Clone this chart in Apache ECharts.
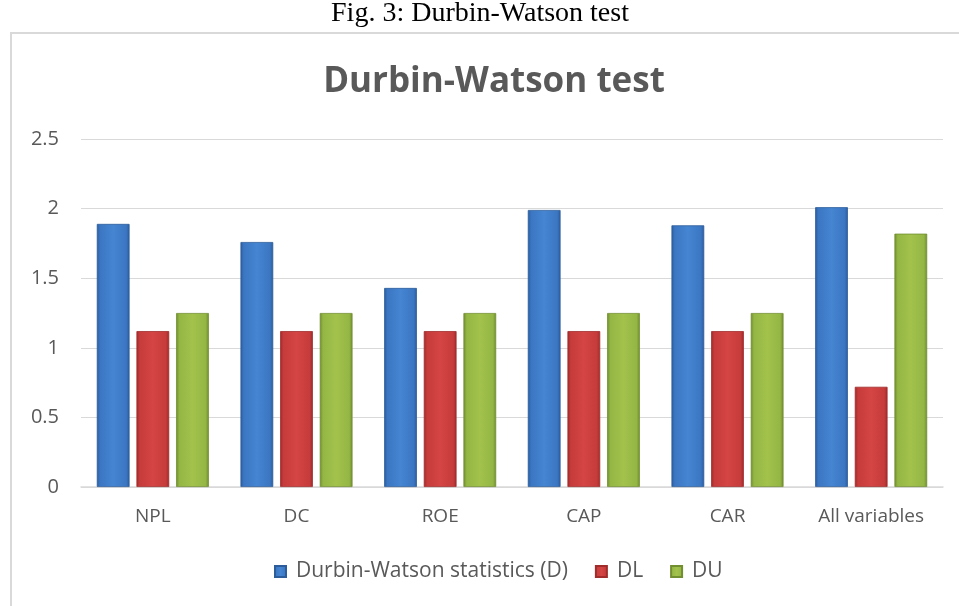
<!DOCTYPE html>
<html>
<head>
<meta charset="utf-8">
<script src="https://cdn.jsdelivr.net/npm/echarts@6/dist/echarts.min.js"></script>
<style>
html,body{margin:0;padding:0;background:#fff;}
#main{width:959px;height:606px;}
</style>
</head>
<body>
<div id="main"></div>
<script>
const categories = ['NPL', 'DC', 'ROE', 'CAP', 'CAR', 'All variables'];
const dwValues = [1.89, 1.76, 1.43, 1.99, 1.88, 2.01];
const dlValues = [1.12, 1.12, 1.12, 1.12, 1.12, 0.72];
const duValues = [1.25, 1.25, 1.25, 1.25, 1.25, 1.82];
const seriesNames = ['Durbin-Watson statistics (D)', 'DL', 'DU'];
const yTicks = [0, 0.5, 1, 1.5, 2, 2.5];

function grad(light, mid, dark) {
  return new echarts.graphic.LinearGradient(0, 0, 1, 0, [
    {offset: 0, color: dark},
    {offset: 0.1, color: mid},
    {offset: 0.5, color: light},
    {offset: 0.9, color: mid},
    {offset: 1, color: dark}
  ]);
}

const chart = echarts.init(document.getElementById('main'), null, {renderer: 'canvas'});
const font = '"Open Sans", "Noto Sans", sans-serif';
const textColor = '#595959';

chart.setOption({
  animation: false,
  backgroundColor: '#fff',
  graphic: [
    {type: 'rect', shape: {x: 11, y: 33, width: 960, height: 600},
     style: {fill: '#fff', stroke: '#d9d9d9', lineWidth: 2}, z: -10, silent: true},
    {type: 'text', x: 480, y: 0,
     style: {text: 'Fig. 3: Durbin-Watson test', font: '28px "Liberation Serif", "Times New Roman", serif', fill: '#000', align: 'center'}}
  ],
  title: {
    text: 'Durbin-Watson test',
    left: 489, top: 60, textAlign: 'center',
    textStyle: {fontFamily: font, fontSize: 35, fontWeight: 'bold', color: textColor}
  },
  legend: {
    bottom: 19, left: 269,
    icon: 'rect',
    itemWidth: 11, itemHeight: 11, itemGap: 27,
    textStyle: {fontFamily: font, fontSize: 21, color: textColor, padding: [0, 0, 0, 5]},
    data: seriesNames
  },
  grid: {left: 81, right: 16, top: 139, bottom: 119},
  xAxis: {
    type: 'category', data: categories,
    axisLine: {lineStyle: {color: '#d9d9d9', width: 1.5}},
    axisTick: {show: false},
    axisLabel: {fontFamily: font, fontSize: 19, color: textColor, margin: 20}
  },
  yAxis: {
    type: 'value', min: 0, max: 2.5, interval: 0.5,
    axisLine: {show: false}, axisTick: {show: false},
    splitLine: {lineStyle: {color: '#d9d9d9', width: 1}},
    axisLabel: {fontFamily: font, fontSize: 20, color: textColor, margin: 22,
      formatter: v => yTicks.includes(v) ? String(v) : ''}
  },
  series: [
    {name: seriesNames[0], type: 'bar', data: dwValues, barGap: '21%', barCategoryGap: '22%',
     itemStyle: {color: grad('#4585d2', '#3b76c2', '#2a5b9c'), borderColor: '#2c5d9a', borderWidth: 0.8}},
    {name: seriesNames[1], type: 'bar', data: dlValues,
     itemStyle: {color: grad('#d44544', '#c63b3b', '#9e2a2a'), borderColor: '#a02c2c', borderWidth: 0.8}},
    {name: seriesNames[2], type: 'bar', data: duValues,
     itemStyle: {color: grad('#a2c24c', '#94b644', '#6f8b2f'), borderColor: '#718e31', borderWidth: 0.8}}
  ]
});
</script>
</body>
</html>
